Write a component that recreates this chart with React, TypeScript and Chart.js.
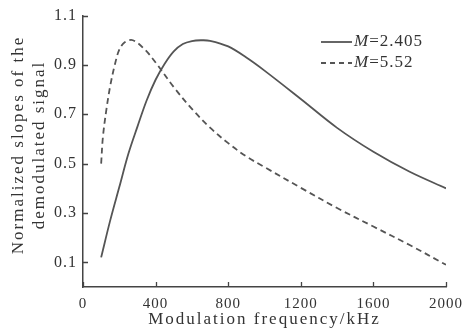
import React, { useEffect, useRef } from "react";
import { Chart, registerables } from "chart.js";

Chart.register(...registerables);

const solidLabel = "=2.405";
const dashLabel = "=5.52";
const solidX = [100, 150, 200, 250, 300, 350, 400, 450, 500, 550, 600, 650, 700, 800, 900, 1000, 1200, 1400, 1600, 1800, 2000];
const solidY = [0.12, 0.27, 0.405, 0.54, 0.65, 0.755, 0.84, 0.905, 0.955, 0.985, 0.997, 1.0, 0.998, 0.975, 0.93, 0.877, 0.762, 0.645, 0.548, 0.467, 0.4];
const dashX = [100, 110, 130, 150, 175, 200, 230, 275, 340, 400, 500, 600, 700, 800, 900, 1000, 1200, 1400, 1600, 1800, 2000];
const dashY = [0.5, 0.61, 0.725, 0.815, 0.9, 0.962, 0.992, 1.0, 0.963, 0.91, 0.81, 0.722, 0.646, 0.583, 0.529, 0.486, 0.402, 0.32, 0.245, 0.17, 0.09];
const yTicks = [0.1, 0.3, 0.5, 0.7, 0.9, 1.1];
const xTicks = [0, 400, 800, 1200, 1600, 2000];
const xTitle = "Modulation frequency/kHz";
const yTitle = ["Normalized slopes of the", "demodulated signal"];

const FONT = "'Liberation Serif', 'Times New Roman', serif";
const TEXT = "#333";
const AXIS = "#444";
const LINE = "#555";

export default function App() {
  const ref = useRef<HTMLCanvasElement>(null);
  useEffect(() => {
    document.body.style.margin = "0";
    const canvas = ref.current!;
    const spacing = {
      id: "spacing",
      beforeUpdate(chart: any) { chart.ctx.letterSpacing = "1px"; },
      beforeDraw(chart: any) { chart.ctx.letterSpacing = "1px"; },
    };
    const extras = {
      id: "extras",
      afterDraw(chart: any) {
        const ctx = chart.ctx as CanvasRenderingContext2D;
        const xs = chart.scales.x;
        const ys = chart.scales.y;
        const area = chart.chartArea;
        ctx.save();
        ctx.strokeStyle = AXIS;
        ctx.lineWidth = 1.3;
        ctx.beginPath();
        yTicks.forEach((v) => {
          const y = Math.round(ys.getPixelForValue(v)) + 0.5;
          ctx.moveTo(area.left, y);
          ctx.lineTo(area.left + 5, y);
        });
        xTicks.forEach((v) => {
          const x = Math.round(xs.getPixelForValue(v)) + 0.5;
          ctx.moveTo(x, area.bottom);
          ctx.lineTo(x, area.bottom - 5);
        });
        ctx.stroke();
        ctx.fillStyle = TEXT;
        ctx.letterSpacing = "2px";
        ctx.font = `17px ${FONT}`;
        ctx.textAlign = "center";
        ctx.textBaseline = "middle";
        ctx.fillText(xTitle, (area.left + area.right) / 2, 320);
        const cy = 145;
        ctx.save();
        ctx.translate(19, cy);
        ctx.rotate(-Math.PI / 2);
        ctx.fillText(yTitle[0], 0, 0);
        ctx.restore();
        ctx.save();
        ctx.translate(40, cy);
        ctx.rotate(-Math.PI / 2);
        ctx.fillText(yTitle[1], 0, 0);
        ctx.restore();
        ctx.letterSpacing = "1px";
        ctx.textAlign = "left";
        const rows = [
          { y: 42, dash: [] as number[], label: solidLabel },
          { y: 63, dash: [5, 4], label: dashLabel },
        ];
        rows.forEach((r) => {
          ctx.strokeStyle = LINE;
          ctx.lineWidth = 1.8;
          ctx.setLineDash(r.dash);
          ctx.beginPath();
          ctx.moveTo(321, r.y);
          ctx.lineTo(352, r.y);
          ctx.stroke();
          ctx.setLineDash([]);
          ctx.font = `italic 17px ${FONT}`;
          ctx.fillText("M", 354, r.y);
          const w = ctx.measureText("M").width;
          ctx.font = `17px ${FONT}`;
          ctx.fillText(r.label, 354 + w, r.y);
        });
        ctx.restore();
      },
    };
    const chart = new Chart(canvas, {
      type: "line",
      data: {
        datasets: [
          {
            label: "M" + solidLabel,
            data: solidX.map((x, i) => ({ x, y: solidY[i] })),
            borderColor: LINE,
            borderWidth: 1.8,
            pointRadius: 0,
            tension: 0.35,
            fill: false,
          },
          {
            label: "M" + dashLabel,
            data: dashX.map((x, i) => ({ x, y: dashY[i] })),
            borderColor: LINE,
            borderWidth: 1.8,
            borderDash: [6, 4],
            pointRadius: 0,
            tension: 0.35,
            fill: false,
          },
        ],
      },
      options: {
        animation: false,
        responsive: false,
        devicePixelRatio: 1,
        layout: { padding: { top: 15, right: 22, left: 0, bottom: 0 } },
        plugins: { legend: { display: false }, tooltip: { enabled: false } },
        scales: {
          x: {
            type: "linear",
            min: 0,
            max: 2000,
            afterBuildTicks: (s: any) => { s.ticks = xTicks.map((v) => ({ value: v })); },
            afterFit: (s: any) => { s.height = 44; },
            grid: { display: false, drawTicks: false },
            border: { display: true, color: AXIS, width: 1.5 },
            ticks: {
              color: TEXT,
              font: { family: FONT, size: 15 },
              padding: 8,
              maxRotation: 0,
              autoSkip: false,
              callback: (v: any) => String(v),
            },
          },
          y: {
            type: "linear",
            min: 0,
            max: 1.1,
            afterBuildTicks: (s: any) => { s.ticks = yTicks.map((v) => ({ value: v })); },
            afterFit: (s: any) => { s.width = 83; },
            grid: { display: false, drawTicks: false },
            border: { display: true, color: AXIS, width: 1.5 },
            ticks: {
              color: TEXT,
              font: { family: FONT, size: 16 },
              padding: 6,
              autoSkip: false,
              callback: (v: any) => Number(v).toFixed(1),
            },
          },
        },
      },
      plugins: [spacing, extras],
    });
    return () => chart.destroy();
  }, []);
  return <canvas ref={ref} width={471} height={331} style={{ display: "block" }} />;
}
